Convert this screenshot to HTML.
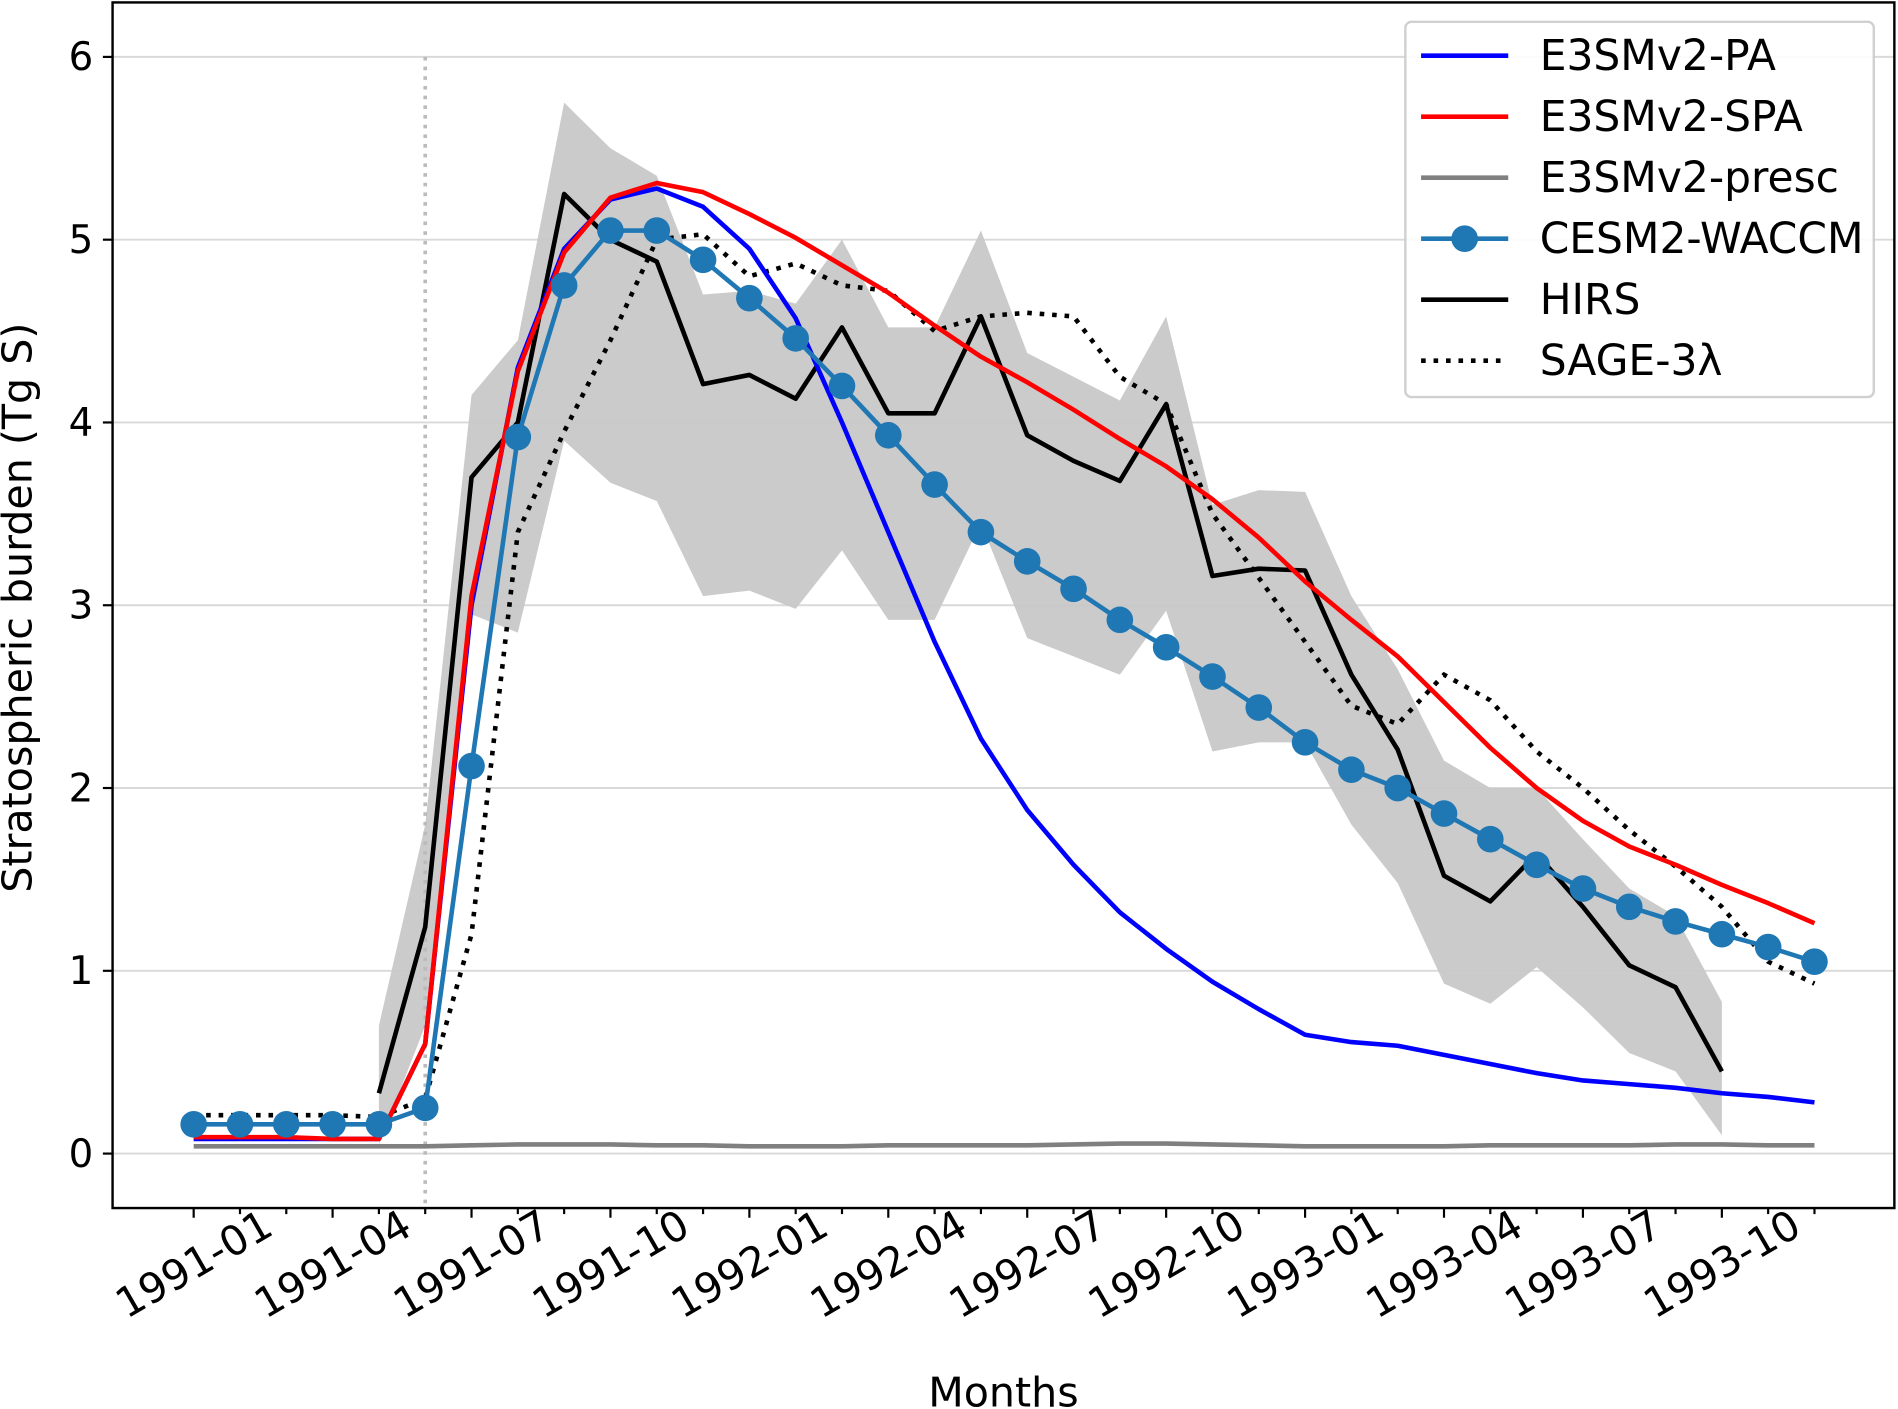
<!DOCTYPE html>
<html><head><meta charset="utf-8"><style>
html,body{margin:0;padding:0;background:#fff}
svg{display:block;font-family:"DejaVu Sans","Liberation Sans",sans-serif}
</style></head><body>
<svg id="chart" width="1898" height="1409" viewBox="0 0 1568 1164" xmlns="http://www.w3.org/2000/svg"></svg>
<script>
const months = Array.from({length:36},(_,i)=>i);
const tickLabels = ["1991-01","1991-04","1991-07","1991-10","1992-01","1992-04","1992-07","1992-10","1993-01","1993-04","1993-07","1993-10"];
const yTicks = [0,1,2,3,4,5,6];
const paValues = [0.08,0.08,0.08,0.08,0.08,0.6,3.0,4.3,4.95,5.22,5.28,5.18,4.95,4.57,4.0,3.4,2.8,2.27,1.88,1.58,1.32,1.12,0.94,0.79,0.65,0.61,0.59,0.54,0.49,0.44,0.4,0.38,0.36,0.33,0.31,0.28];
const spaValues = [0.09,0.09,0.09,0.08,0.08,0.6,3.05,4.28,4.93,5.23,5.31,5.26,5.14,5.01,4.86,4.71,4.53,4.36,4.22,4.07,3.91,3.76,3.58,3.37,3.13,2.92,2.72,2.47,2.22,2.0,1.82,1.68,1.58,1.47,1.37,1.26];
const prescValues = [0.04,0.04,0.04,0.04,0.04,0.04,0.045,0.05,0.05,0.05,0.045,0.045,0.04,0.04,0.04,0.045,0.045,0.045,0.045,0.05,0.055,0.055,0.05,0.045,0.04,0.04,0.04,0.04,0.045,0.045,0.045,0.045,0.05,0.05,0.045,0.045];
const cesmValues = [0.16,0.16,0.16,0.16,0.16,0.25,2.12,3.92,4.75,5.05,5.05,4.89,4.68,4.46,4.2,3.93,3.66,3.4,3.24,3.09,2.92,2.77,2.61,2.44,2.25,2.1,2.0,1.86,1.72,1.58,1.45,1.35,1.27,1.2,1.13,1.05];
const hirsStart = 4;
const hirsValues = [0.33,1.24,3.7,4.0,5.25,5.0,4.88,4.21,4.26,4.13,4.52,4.05,4.05,4.58,3.93,3.79,3.68,4.1,3.16,3.2,3.19,2.62,2.21,1.52,1.38,1.64,1.35,1.03,0.91,0.45];
const hirsUpper = [0.7,1.8,4.15,4.45,5.75,5.5,5.35,4.7,4.72,4.65,5.0,4.52,4.52,5.05,4.38,4.25,4.12,4.58,3.55,3.63,3.62,3.05,2.65,2.15,2.0,2.0,1.72,1.45,1.3,0.83];
const hirsLower = [0.05,0.7,2.95,2.85,3.9,3.67,3.57,3.05,3.08,2.98,3.3,2.92,2.92,3.45,2.82,2.72,2.62,2.97,2.2,2.25,2.25,1.8,1.48,0.93,0.82,1.02,0.8,0.55,0.45,0.1];
const sageValues = [0.21,0.21,0.21,0.21,0.2,0.3,1.2,3.4,3.95,4.45,5.0,5.03,4.8,4.87,4.75,4.72,4.5,4.58,4.6,4.58,4.25,4.1,3.5,3.15,2.8,2.45,2.35,2.62,2.48,2.2,2.0,1.77,1.57,1.35,1.05,0.93];
const eruptionMonth = 5;

const NS="http://www.w3.org/2000/svg";
const svg=document.getElementById('chart');
const L=93,R=1565,T=2,B=998;
const LW=3.8;
const xS=m=>160+m*38.257;
const yS=v=>953-v*151;
function el(tag,attrs,parent){const e=document.createElementNS(NS,tag);for(const k in attrs)e.setAttribute(k,attrs[k]);(parent||svg).appendChild(e);return e;}
function txt(s,attrs){const t=el('text',attrs);t.textContent=s;return t;}

yTicks.forEach(v=>{
  const g=el('line',{x1:L,x2:R,y1:yS(v),y2:yS(v),stroke:'#d9d9d9','stroke-width':1.6});
  
  
});
let bp=hirsUpper.map((v,i)=>xS(hirsStart+i)+','+yS(v));
bp=bp.concat(hirsLower.map((v,i)=>xS(hirsStart+i)+','+yS(v)).reverse());
const band=el('polygon',{points:bp.join(' '),fill:'#c8c8c8',opacity:0.95});


const vl=el('line',{x1:xS(eruptionMonth),x2:xS(eruptionMonth),y1:47,y2:B,stroke:'#bbb','stroke-width':3,'stroke-dasharray':'3,5'});



function line(vals,start,color,name,extra){
  const p=el('polyline',Object.assign({points:vals.map((v,i)=>xS(start+i)+','+yS(v)).join(' '),fill:'none',stroke:color,'stroke-width':LW,'stroke-linejoin':'round'},extra||{}));
  
  
  return p;
}
line(prescValues,0,'#808080','e3smv2-presc-line');
line(sageValues,0,'#000','sage-3lambda-line',{'stroke-dasharray':'3.8,6.5','stroke-linejoin':'miter'});
line(hirsValues,hirsStart,'#000','hirs-line');
line(paValues,0,'#0000ff','e3smv2-pa-line');
line(spaValues,0,'#ff0000','e3smv2-spa-line');
line(cesmValues,0,'#1f77b4','cesm2-waccm-line');
cesmValues.forEach((v,i)=>{
  const c=el('circle',{cx:xS(i),cy:yS(v),r:11,fill:'#1f77b4'});
  
  
});

const fr=el('rect',{x:L,y:T,width:R-L,height:B-T,fill:'none',stroke:'#000','stroke-width':2});



yTicks.forEach(v=>{
  const t=el('line',{x1:L-8,x2:L,y1:yS(v),y2:yS(v),stroke:'#000','stroke-width':1.8});
  
  
  const l=txt(String(v),{x:L-16,y:yS(v)+11,'text-anchor':'end','font-size':32,fill:'#000'});
  
  
});
months.forEach(m=>{
  const t=el('line',{x1:xS(m),x2:xS(m),y1:B,y2:B+(m%3===0?8:5),stroke:'#000','stroke-width':1.8});
  
  
});
tickLabels.forEach((s,i)=>{
  const cx=xS(i*3),cy=1044;
  const l=txt(s,{x:cx,y:cy+12,'text-anchor':'middle','font-size':34,fill:'#000',transform:`rotate(-30 ${cx} ${cy})`});
  
  
});
const xt=txt('Months',{x:829,y:1162,'text-anchor':'middle','font-size':34,fill:'#000'});


const yt=txt('Stratospheric burden (Tg S)',{x:26,y:502,'text-anchor':'middle','font-size':34,fill:'#000',transform:'rotate(-90 26 502)'});



const lg=el('rect',{x:1161,y:18,width:387,height:310,rx:5,fill:'#fff',stroke:'#ccc','stroke-width':2,opacity:0.9});


const entries=[['E3SMv2-PA','#0000ff',''],['E3SMv2-SPA','#ff0000',''],['E3SMv2-presc','#808080',''],['CESM2-WACCM','#1f77b4','m'],['HIRS','#000',''],['SAGE-3λ','#000','d']];
entries.forEach((e,i)=>{
  const y=46+i*50.4;
  const a={x1:1174,x2:1246,y1:y,y2:y,stroke:e[1],'stroke-width':LW};
  if(e[2]==='d')a['stroke-dasharray']='3.8,6.5';
  const ln=el('line',a);
  
  
  if(e[2]==='m'){const c=el('circle',{cx:1210,cy:y,r:11,fill:e[1]});
    
    }
  const t=txt(e[0],{x:1272,y:y+12,'font-size':35,fill:'#000'});
  
  
});
</script>
</body></html>
